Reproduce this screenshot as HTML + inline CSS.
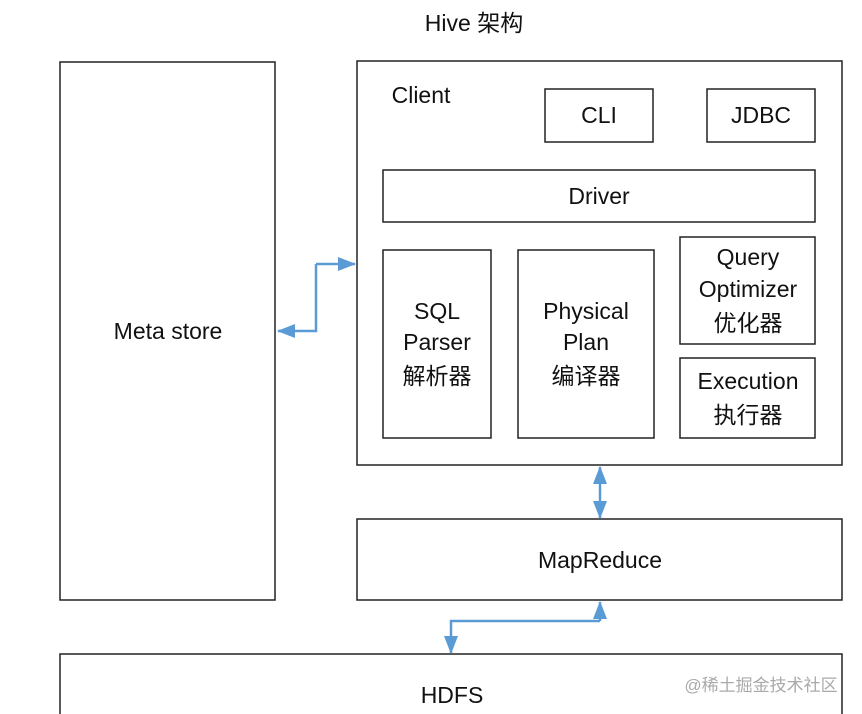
<!DOCTYPE html>
<html><head><meta charset="utf-8"><style>
html,body{margin:0;padding:0;background:#fff;}
svg{display:block;}
text{font-family:"Liberation Sans","Noto Sans CJK SC",sans-serif;font-size:23px;fill:#111;text-anchor:middle;}
rect{fill:#fff;stroke:#222;stroke-width:1.5;}
</style></head><body>
<svg width="862" height="714" viewBox="0 0 862 714">
<defs>
<marker id="b" markerWidth="18" markerHeight="14" refX="17" refY="7" orient="auto" markerUnits="userSpaceOnUse" viewBox="0 0 18 14">
<path d="M0,0 L18,7 L0,14 z" fill="#5b9bd5"/>
</marker>
</defs>
<text x="474" y="31">Hive 架构</text>
<rect x="60" y="62" width="215" height="538"/>
<text x="168" y="339">Meta store</text>
<rect x="357" y="61" width="485" height="404"/>
<text x="421" y="103">Client</text>
<rect x="545" y="89" width="108" height="53"/>
<text x="599" y="123">CLI</text>
<rect x="707" y="89" width="108" height="53"/>
<text x="761" y="123">JDBC</text>
<rect x="383" y="170" width="432" height="52"/>
<text x="599" y="204">Driver</text>
<rect x="383" y="250" width="108" height="188"/>
<text x="437" y="319">SQL</text><text x="437" y="350">Parser</text><text x="437" y="384">解析器</text>
<rect x="518" y="250" width="136" height="188"/>
<text x="586" y="319">Physical</text><text x="586" y="350">Plan</text><text x="586" y="384">编译器</text>
<rect x="680" y="237" width="135" height="107"/>
<text x="748" y="265">Query</text><text x="748" y="297">Optimizer</text><text x="748" y="331">优化器</text>
<rect x="680" y="358" width="135" height="80"/>
<text x="748" y="389">Execution</text><text x="748" y="423">执行器</text>
<rect x="357" y="519" width="485" height="81"/>
<text x="600" y="568">MapReduce</text>
<rect x="60" y="654" width="782" height="70"/>
<text x="452" y="703">HDFS</text>
<text x="761" y="691" style="font-size:17px;fill:#aaa">@稀土掘金技术社区</text>
<g fill="none" stroke="#5b9bd5" stroke-width="2.5">
<path d="M316,264 L355,264" marker-end="url(#b)"/>
<path d="M316,264 L316,331 L278,331" marker-end="url(#b)"/>
<path d="M600,490 L600,467" marker-end="url(#b)"/>
<path d="M600,490 L600,518" marker-end="url(#b)"/>
<path d="M600,621 L600,602" marker-end="url(#b)"/>
<path d="M600,621 L451,621 L451,653" marker-end="url(#b)"/>
</g>
</svg>
</body></html>
